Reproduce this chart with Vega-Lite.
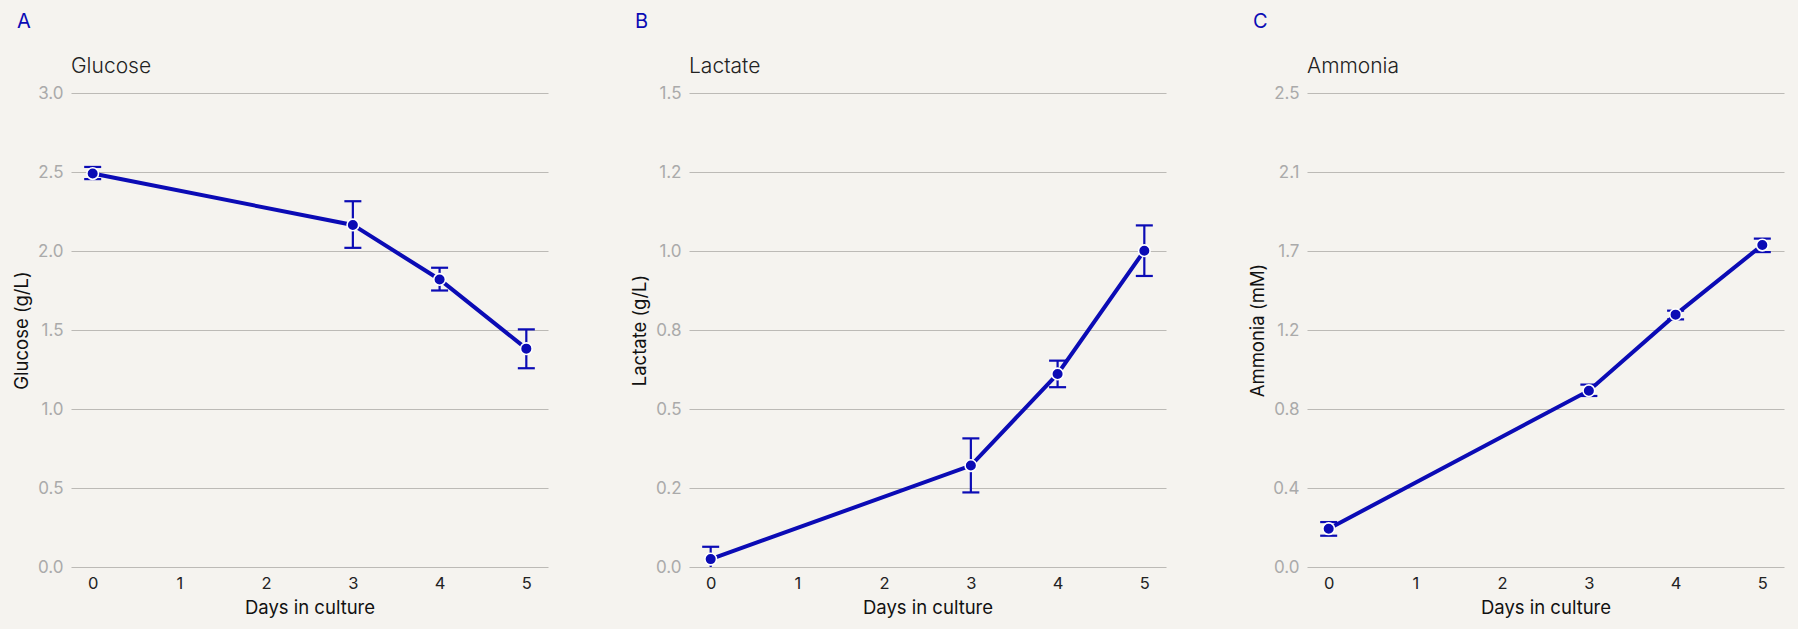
{
  "$schema": "https://vega.github.io/schema/vega-lite/v6.json",
  "description": "Culture metabolites over days in culture: glucose, lactate, ammonia (mean with error bars)",
  "background": "#f5f3ef",
  "padding": {"left": 12, "top": 12, "right": 14, "bottom": 12},
  "config": {
    "font": "Inter",
    "view": {"stroke": null},
    "axis": {"labelFont": "Inter", "titleFont": "Inter"}
  },
  "data": {
    "values": [
      {"metric": "Glucose", "day": 0, "mean": 2.49, "lo": 2.455, "hi": 2.532},
      {"metric": "Glucose", "day": 3, "mean": 2.165, "lo": 2.02, "hi": 2.315},
      {"metric": "Glucose", "day": 4, "mean": 1.82, "lo": 1.75, "hi": 1.894},
      {"metric": "Glucose", "day": 5, "mean": 1.382, "lo": 1.258, "hi": 1.504},
      {"metric": "Lactate", "day": 0, "mean": 0.025, "lo": -0.014, "hi": 0.064},
      {"metric": "Lactate", "day": 3, "mean": 0.321, "lo": 0.236, "hi": 0.407},
      {"metric": "Lactate", "day": 4, "mean": 0.611, "lo": 0.569, "hi": 0.653},
      {"metric": "Lactate", "day": 5, "mean": 1.001, "lo": 0.921, "hi": 1.081},
      {"metric": "Ammonia", "day": 0, "mean": 0.202, "lo": 0.165, "hi": 0.237},
      {"metric": "Ammonia", "day": 3, "mean": 0.93, "lo": 0.902, "hi": 0.962},
      {"metric": "Ammonia", "day": 4, "mean": 1.331, "lo": 1.306, "hi": 1.352},
      {"metric": "Ammonia", "day": 5, "mean": 1.698, "lo": 1.661, "hi": 1.732}
    ]
  },
  "spacing": 82,
  "hconcat": [
    {
      "title": {"text": "A", "anchor": "start", "frame": "bounds", "color": "#0b0bb5", "fontSize": 20, "fontWeight": "normal", "dx": 5, "offset": 24},
      "vconcat": [
        {
          "title": {"text": "Glucose", "anchor": "start", "frame": "group", "color": "#222222", "fontSize": 21, "fontWeight": 300, "offset": 7},
          "width": 477,
          "height": 474,
          "transform": [{"filter": "datum.metric == 'Glucose'"}],
          "encoding": {
            "x": {
              "field": "day", "type": "quantitative", "title": "Days in culture",
              "scale": {"domain": [-0.25, 5.25], "nice": false, "zero": false},
              "axis": {"values": [0, 1, 2, 3, 4, 5], "grid": false, "domain": false, "ticks": false, "labelPadding": 8, "labelFontSize": 16.5, "labelColor": "#222222", "titleFontSize": 18.5, "titleFontWeight": "normal", "titleColor": "#111111", "titlePadding": 7}
            }
          },
          "layer": [
            {
              "mark": {"type": "line", "color": "#0b0bb5", "strokeWidth": 4},
              "encoding": {
                "y": {
                  "field": "mean", "type": "quantitative", "title": "Glucose (g/L)",
                  "scale": {"domain": [0, 3], "nice": false},
                  "axis": {"values": [0, 0.5, 1, 1.5, 2, 2.5, 3], "format": ".1f", "domain": false, "ticks": false, "gridColor": "#bcbab6", "gridWidth": 1.2, "labelPadding": 8, "labelFontSize": 17, "labelColor": "#aaaaaa", "minExtent": 33, "maxExtent": 33, "titleFontSize": 18.5, "titleFontWeight": "normal", "titleColor": "#111111", "titlePadding": 7}
                }
              }
            },
            {
              "mark": {"type": "rule", "color": "#0b0bb5", "strokeWidth": 2.2, "clip": true},
              "encoding": {"y": {"field": "lo", "type": "quantitative", "title": "Glucose (g/L)"}, "y2": {"field": "hi"}}
            },
            {
              "mark": {"type": "tick", "orient": "horizontal", "color": "#0b0bb5", "size": 17, "thickness": 2.2, "opacity": 1, "clip": true},
              "encoding": {"y": {"field": "lo", "type": "quantitative", "title": "Glucose (g/L)"}}
            },
            {
              "mark": {"type": "tick", "orient": "horizontal", "color": "#0b0bb5", "size": 17, "thickness": 2.2, "opacity": 1, "clip": true},
              "encoding": {"y": {"field": "hi", "type": "quantitative", "title": "Glucose (g/L)"}}
            },
            {
              "mark": {"type": "point", "filled": true, "color": "#0b0bb5", "size": 135, "opacity": 1, "stroke": "#ffffff", "strokeWidth": 1.6},
              "encoding": {"y": {"field": "mean", "type": "quantitative", "title": "Glucose (g/L)"}}
            }
          ]
        }
      ]
    },
    {
      "title": {"text": "B", "anchor": "start", "frame": "bounds", "color": "#0b0bb5", "fontSize": 20, "fontWeight": "normal", "dx": 5, "offset": 24},
      "vconcat": [
        {
          "title": {"text": "Lactate", "anchor": "start", "frame": "group", "color": "#222222", "fontSize": 21, "fontWeight": 300, "offset": 7},
          "width": 477,
          "height": 474,
          "transform": [{"filter": "datum.metric == 'Lactate'"}],
          "encoding": {
            "x": {
              "field": "day", "type": "quantitative", "title": "Days in culture",
              "scale": {"domain": [-0.25, 5.25], "nice": false, "zero": false},
              "axis": {"values": [0, 1, 2, 3, 4, 5], "grid": false, "domain": false, "ticks": false, "labelPadding": 8, "labelFontSize": 16.5, "labelColor": "#222222", "titleFontSize": 18.5, "titleFontWeight": "normal", "titleColor": "#111111", "titlePadding": 7}
            }
          },
          "layer": [
            {
              "mark": {"type": "line", "color": "#0b0bb5", "strokeWidth": 4},
              "encoding": {
                "y": {
                  "field": "mean", "type": "quantitative", "title": "Lactate (g/L)",
                  "scale": {"domain": [0, 1.5], "nice": false},
                  "axis": {"values": [0, 0.25, 0.5, 0.75, 1, 1.25, 1.5], "labelExpr": "datum.value == 0.25 ? '0.2' : datum.value == 1.25 ? '1.2' : format(datum.value, '.1f')", "domain": false, "ticks": false, "gridColor": "#bcbab6", "gridWidth": 1.2, "labelPadding": 8, "labelFontSize": 17, "labelColor": "#aaaaaa", "minExtent": 33, "maxExtent": 33, "titleFontSize": 18.5, "titleFontWeight": "normal", "titleColor": "#111111", "titlePadding": 7}
                }
              }
            },
            {
              "mark": {"type": "rule", "color": "#0b0bb5", "strokeWidth": 2.2, "clip": true},
              "encoding": {"y": {"field": "lo", "type": "quantitative", "title": "Lactate (g/L)"}, "y2": {"field": "hi"}}
            },
            {
              "mark": {"type": "tick", "orient": "horizontal", "color": "#0b0bb5", "size": 17, "thickness": 2.2, "opacity": 1, "clip": true},
              "encoding": {"y": {"field": "lo", "type": "quantitative", "title": "Lactate (g/L)"}}
            },
            {
              "mark": {"type": "tick", "orient": "horizontal", "color": "#0b0bb5", "size": 17, "thickness": 2.2, "opacity": 1, "clip": true},
              "encoding": {"y": {"field": "hi", "type": "quantitative", "title": "Lactate (g/L)"}}
            },
            {
              "mark": {"type": "point", "filled": true, "color": "#0b0bb5", "size": 135, "opacity": 1, "stroke": "#ffffff", "strokeWidth": 1.6},
              "encoding": {"y": {"field": "mean", "type": "quantitative", "title": "Lactate (g/L)"}}
            }
          ]
        }
      ]
    },
    {
      "title": {"text": "C", "anchor": "start", "frame": "bounds", "color": "#0b0bb5", "fontSize": 20, "fontWeight": "normal", "dx": 5, "offset": 24},
      "vconcat": [
        {
          "title": {"text": "Ammonia", "anchor": "start", "frame": "group", "color": "#222222", "fontSize": 21, "fontWeight": 300, "offset": 7},
          "width": 477,
          "height": 474,
          "transform": [{"filter": "datum.metric == 'Ammonia'"}],
          "encoding": {
            "x": {
              "field": "day", "type": "quantitative", "title": "Days in culture",
              "scale": {"domain": [-0.25, 5.25], "nice": false, "zero": false},
              "axis": {"values": [0, 1, 2, 3, 4, 5], "grid": false, "domain": false, "ticks": false, "labelPadding": 8, "labelFontSize": 16.5, "labelColor": "#222222", "titleFontSize": 18.5, "titleFontWeight": "normal", "titleColor": "#111111", "titlePadding": 7}
            }
          },
          "layer": [
            {
              "mark": {"type": "line", "color": "#0b0bb5", "strokeWidth": 4},
              "encoding": {
                "y": {
                  "field": "mean", "type": "quantitative", "title": "Ammonia (mM)",
                  "scale": {"domain": [0, 2.5], "nice": false},
                  "axis": {"values": [0, 0.4166666667, 0.8333333333, 1.25, 1.6666666667, 2.0833333333, 2.5], "labelExpr": "datum.value == 1.25 ? '1.2' : format(datum.value, '.1f')", "domain": false, "ticks": false, "gridColor": "#bcbab6", "gridWidth": 1.2, "labelPadding": 8, "labelFontSize": 17, "labelColor": "#aaaaaa", "minExtent": 33, "maxExtent": 33, "titleFontSize": 18.5, "titleFontWeight": "normal", "titleColor": "#111111", "titlePadding": 7}
                }
              }
            },
            {
              "mark": {"type": "rule", "color": "#0b0bb5", "strokeWidth": 2.2, "clip": true},
              "encoding": {"y": {"field": "lo", "type": "quantitative", "title": "Ammonia (mM)"}, "y2": {"field": "hi"}}
            },
            {
              "mark": {"type": "tick", "orient": "horizontal", "color": "#0b0bb5", "size": 17, "thickness": 2.2, "opacity": 1, "clip": true},
              "encoding": {"y": {"field": "lo", "type": "quantitative", "title": "Ammonia (mM)"}}
            },
            {
              "mark": {"type": "tick", "orient": "horizontal", "color": "#0b0bb5", "size": 17, "thickness": 2.2, "opacity": 1, "clip": true},
              "encoding": {"y": {"field": "hi", "type": "quantitative", "title": "Ammonia (mM)"}}
            },
            {
              "mark": {"type": "point", "filled": true, "color": "#0b0bb5", "size": 135, "opacity": 1, "stroke": "#ffffff", "strokeWidth": 1.6},
              "encoding": {"y": {"field": "mean", "type": "quantitative", "title": "Ammonia (mM)"}}
            }
          ]
        }
      ]
    }
  ]
}
